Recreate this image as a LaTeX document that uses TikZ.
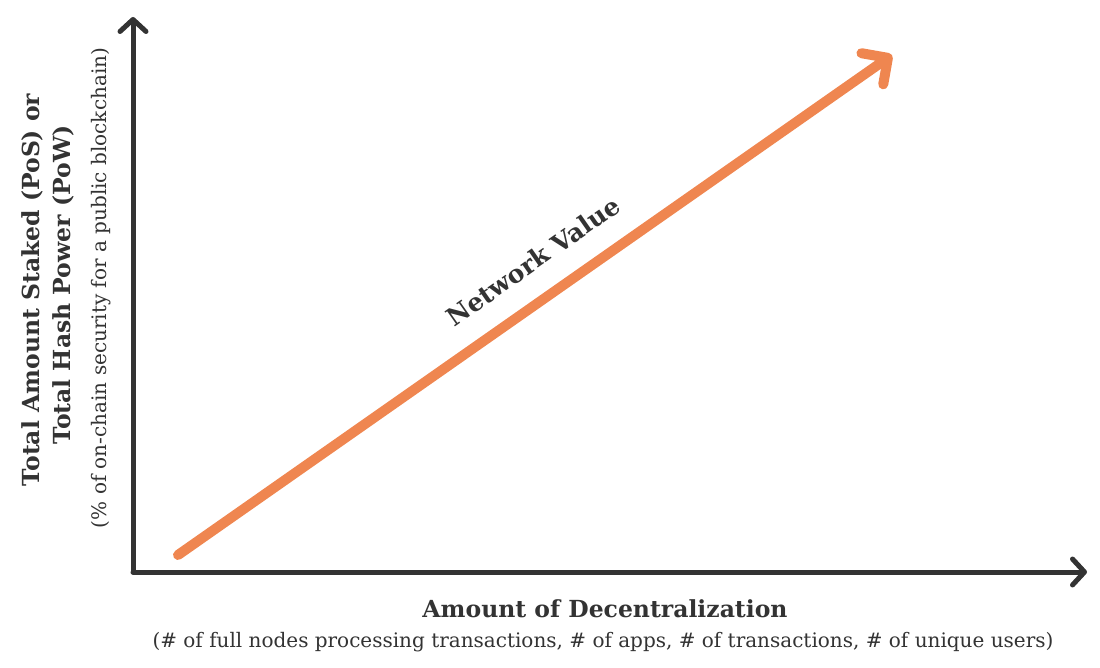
\documentclass[tikz,border=0pt]{standalone}
\usepackage{fontspec}
\setmainfont{DejaVu Serif}
\usetikzlibrary{arrows.meta}
\definecolor{axisgray}{HTML}{333333}
\definecolor{netorange}{HTML}{EF8650}
\begin{document}
\begin{tikzpicture}[x=1pt,y=1pt,
  axisline/.style={draw=axisgray,line width=5pt,line cap=round,
    -{Straight Barb[length=12pt,width=26pt,line cap=round,line join=round]}},
  valline/.style={draw=netorange,line width=10pt,line cap=round,
    -{Straight Barb[length=19pt,width=38pt,line cap=round,line join=round]}},
  titlefont/.style={font=\bfseries\fontsize{23.5}{28}\selectfont,text=axisgray},
  valfont/.style={font=\bfseries\fontsize{25}{30}\selectfont,text=axisgray},
  subfont/.style={font=\fontsize{20}{24}\selectfont,text=axisgray}]
\useasboundingbox (0,0) rectangle (1100,667);
\coordinate (O) at (133,95);
\coordinate (Ytop) at (133,650);
\coordinate (Xend) at (1087,95);
\coordinate (Vs) at (178,112);
\coordinate (Ve) at (892,612);
\draw[axisline] (O) -- (Ytop);
\draw[axisline] (O) -- (Xend);
\draw[valline] (Vs) -- (Ve);
\node[valfont,rotate=35,inner sep=0pt] (nv) at (533,406) {Network Value};
\node[titlefont,inner sep=0pt] (xt) at (605,58) {Amount of Decentralization};
\node[subfont,inner sep=0pt] (xs) at (603,25) {(\# of full nodes processing transactions, \# of apps, \# of transactions, \# of unique users)};
\node[titlefont,rotate=90,inner sep=0pt] (yt1) at (32,377) {Total Amount Staked (PoS) or};
\node[titlefont,rotate=90,inner sep=0pt] (yt2) at (63,382) {Total Hash Power (PoW)};
\node[subfont,rotate=90,inner sep=0pt] (ys) at (101,379) {(\% of on-chain security for a public blockchain)};
\end{tikzpicture}
\end{document}
